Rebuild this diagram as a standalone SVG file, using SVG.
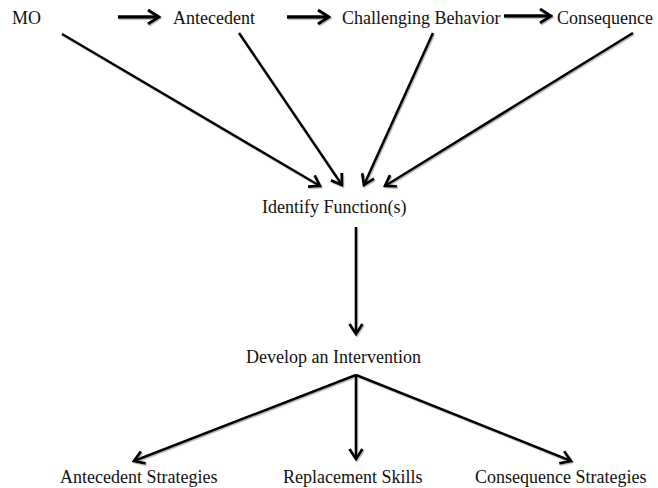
<svg xmlns="http://www.w3.org/2000/svg" width="658" height="488" viewBox="0 0 658 488">
<style>
text{font-family:"Liberation Serif","Times New Roman",serif;font-size:18px;fill:#111}
.c{stroke:#000;stroke-width:2.6;fill:none;marker-end:url(#ah)}
.t{stroke:#000;stroke-width:3.4;fill:none;marker-end:url(#ah2)}
</style>
<defs>
<marker id="ah" markerUnits="userSpaceOnUse" viewBox="-12 -8 14 16" refX="0" refY="0" markerWidth="14" markerHeight="16" orient="auto">
<path d="M-10,-6.5 L0,0 L-10,6.5" fill="none" stroke="#000" stroke-width="2.8" stroke-linejoin="miter" stroke-linecap="butt"/>
</marker>
<marker id="ah2" markerUnits="userSpaceOnUse" viewBox="-14 -9 16 18" refX="0" refY="0" markerWidth="16" markerHeight="18" orient="auto">
<path d="M-11,-7 L0,0 L-11,7" fill="none" stroke="#000" stroke-width="3.2" stroke-linejoin="miter" stroke-linecap="butt"/>
</marker>
<filter id="sh" filterUnits="userSpaceOnUse" x="0" y="0" width="658" height="488">
<feDropShadow dx="1" dy="1.2" stdDeviation="0.6" flood-color="#888" flood-opacity="0.6"/>
</filter>
</defs>
<rect width="658" height="488" fill="#fff"/>
<g id="n-mo"><text x="12" y="24">MO</text></g>
<g id="n-antecedent"><text x="173" y="24">Antecedent</text></g>
<g id="n-behavior"><text x="342" y="24">Challenging Behavior</text></g>
<g id="n-consequence"><text x="557" y="24">Consequence</text></g>
<g id="n-function"><text x="262" y="213">Identify Function(s)</text></g>
<g id="n-intervention"><text x="246" y="363">Develop an Intervention</text></g>
<g id="n-antstrat"><text x="60" y="483">Antecedent Strategies</text></g>
<g id="n-replace"><text x="283" y="483">Replacement Skills</text></g>
<g id="n-consstrat"><text x="475" y="483">Consequence Strategies</text></g>
<g id="connectors" filter="url(#sh)">
<line class="t" x1="118" y1="17" x2="159" y2="17"/>
<line class="t" x1="287" y1="17" x2="329" y2="17"/>
<line class="t" x1="504" y1="16" x2="551" y2="16"/>
<line class="c" x1="62" y1="34" x2="320" y2="186"/>
<line class="c" x1="239" y1="33" x2="342" y2="185"/>
<line class="c" x1="433" y1="33" x2="364" y2="185"/>
<line class="c" x1="633" y1="33" x2="385" y2="186"/>
<line class="c" x1="356" y1="227" x2="356" y2="334"/>
<line class="c" x1="356" y1="375" x2="134" y2="461"/>
<line class="c" x1="356" y1="375" x2="356" y2="459"/>
<line class="c" x1="356" y1="375" x2="571" y2="461"/>
</g>
</svg>
